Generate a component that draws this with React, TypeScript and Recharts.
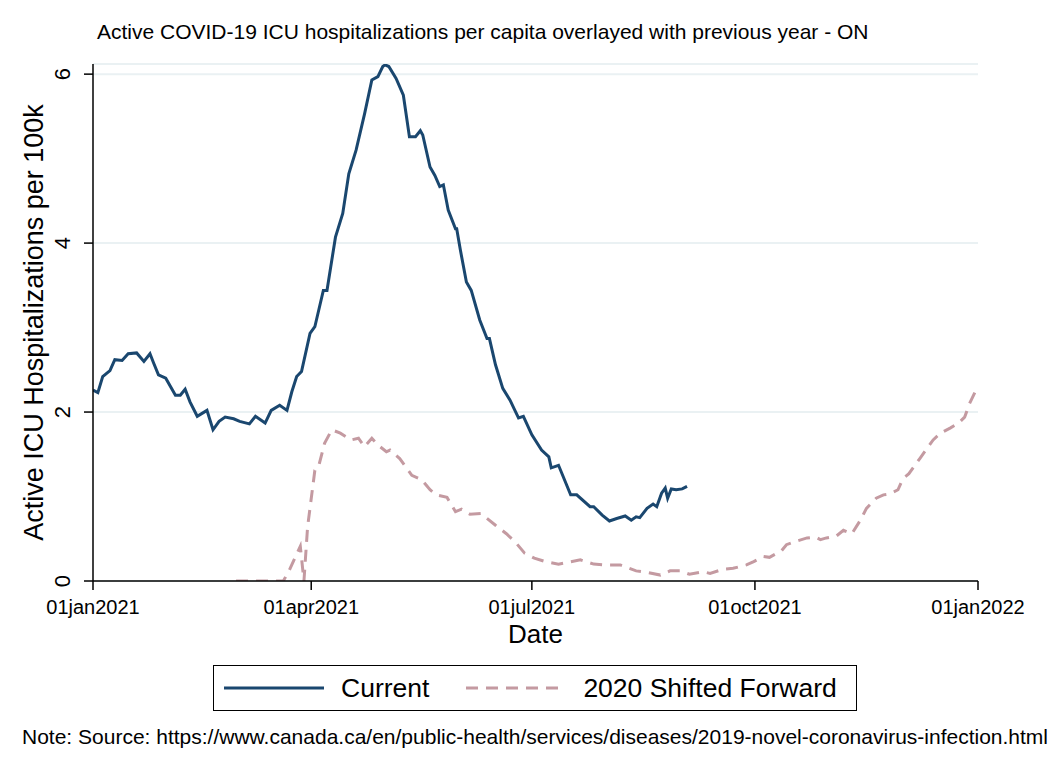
import React from 'react';
import { LineChart, Line, XAxis, YAxis, CartesianGrid, Legend, Label } from 'recharts';

const chartTitle = 'Active COVID-19 ICU hospitalizations per capita overlayed with previous year - ON';
const noteText = 'Note: Source: https://www.canada.ca/en/public-health/services/diseases/2019-novel-coronavirus-infection.html';
const xAxisTitle = 'Date';
const yAxisTitle = 'Active ICU Hospitalizations per 100k';

// x = days since 01jan2021
const xTickDays = [0, 90, 181, 273, 365];
const xTickLabels = ['01jan2021', '01apr2021', '01jul2021', '01oct2021', '01jan2022'];
const yTicks = [0, 2, 4, 6];
const legendOrder = ['Current', '2020 Shifted Forward'];

const currentDays = [
  0, 2, 4, 7, 9, 12, 14.5, 18, 21, 23.5, 25, 27, 30, 34, 36, 38, 40, 43, 47, 49.5,
  52, 54.5, 58, 60.5, 64.5, 67, 71, 73.5, 77, 80, 82, 84, 86, 89.5, 91.5, 95, 96.5, 100,
  103, 105.5, 108.5, 112, 115, 117.5, 119.5, 120.5, 122, 125, 128, 130.5, 133, 135, 136,
  139, 141, 143, 144.5, 146.5, 149.5, 150, 151.5, 154, 156, 159.5, 162.5, 163.5, 166, 169,
  172, 174, 175.5, 177.5, 181, 185, 188, 189, 192, 197, 199.5, 205, 206.5, 210, 213, 216,
  219.5, 222, 224, 225.5, 228.5, 231, 232.5, 234.5, 236, 237, 238.5, 240.5, 243, 245,
];
const currentValues = [
  2.26, 2.23, 2.42, 2.49, 2.62, 2.61, 2.69, 2.70, 2.60, 2.69, 2.58, 2.44, 2.40, 2.20, 2.20, 2.27, 2.12, 1.95, 2.02, 1.79,
  1.89, 1.94, 1.92, 1.89, 1.86, 1.95, 1.87, 2.02, 2.08, 2.02, 2.24, 2.42, 2.48, 2.93, 3.01, 3.44, 3.44, 4.07,
  4.35, 4.82, 5.10, 5.53, 5.93, 5.97, 6.09, 6.11, 6.09, 5.95, 5.75, 5.26, 5.26, 5.33, 5.28,
  4.90, 4.80, 4.67, 4.69, 4.39, 4.17, 4.17, 3.92, 3.54, 3.44, 3.09, 2.87, 2.87, 2.56, 2.28,
  2.14, 2.02, 1.93, 1.95, 1.73, 1.55, 1.47, 1.34, 1.37, 1.02, 1.02, 0.88, 0.88, 0.78, 0.71, 0.74,
  0.77, 0.72, 0.76, 0.75, 0.86, 0.91, 0.88, 1.04, 1.10, 0.98, 1.09, 1.08, 1.09, 1.12,
];

const shiftedDays = [
  59, 78.5, 81, 85.5, 87, 88.5, 91.5, 93, 95.5, 98.5, 102, 106.5, 109.5, 112, 115, 117.5,
  121, 122.5, 126.5, 131.5, 135.5, 139, 141.5, 146, 149.5, 152, 155.5, 160, 166, 170.5,
  174.5, 178, 182, 186.5, 192, 195.5, 201, 206.5, 212, 217.5, 224, 229, 234, 238, 242, 246,
  251.5, 254.5, 260, 264, 269.5, 272.5, 276.5, 279, 284, 286, 290, 294.5, 298, 300, 302.5,
  306.5, 309.5, 313, 316.5, 319, 323, 326, 328.5, 332, 334, 336.5, 339, 341, 344, 346.5,
  349.5, 353.5, 357, 359.5, 361.5, 364.5,
];
const shiftedValues = [
  0, 0, 0.13, 0.41, 0, 0.64, 1.31, 1.35, 1.63, 1.79, 1.75, 1.67, 1.69, 1.59, 1.69, 1.61,
  1.53, 1.55, 1.45, 1.25, 1.20, 1.08, 1.02, 0.99, 0.82, 0.85, 0.79, 0.80, 0.66, 0.56,
  0.45, 0.33, 0.27, 0.23, 0.20, 0.22, 0.25, 0.20, 0.19, 0.19, 0.12, 0.10, 0.07, 0.12, 0.12, 0.08,
  0.11, 0.09, 0.14, 0.15, 0.19, 0.23, 0.29, 0.28, 0.36, 0.43, 0.47, 0.51, 0.52, 0.49, 0.51,
  0.53, 0.60, 0.56, 0.72, 0.86, 0.98, 1.02, 1.03, 1.08, 1.21, 1.27, 1.37, 1.45, 1.57, 1.67,
  1.75, 1.81, 1.87, 1.94, 2.10, 2.28,
];

const currentData = currentDays.map((day, i) => ({ day, v: currentValues[i] }));
const shiftedData = shiftedDays.map((day, i) => ({ day, v: shiftedValues[i] }));

const NAVY = '#1a476f';
const MAROON = '#c49aa1';
const FONT = '"Liberation Sans", Arial, sans-serif';

const seriesStyle: Record<string, { color: string; dash?: string }> = {
  'Current': { color: NAVY },
  '2020 Shifted Forward': { color: MAROON, dash: '12 8' },
};

const YTick = (props: any) => {
  const { x, y, payload } = props;
  return (
    <text
      x={x}
      y={y}
      transform={`rotate(-90 ${x} ${y})`}
      textAnchor="middle"
      fontSize={22}
      fontFamily={FONT}
      fill="#000"
    >
      {payload.value}
    </text>
  );
};

const LegendContent = (props: any) => {
  const items = [...(props.payload || [])].sort(
    (a: any, b: any) => legendOrder.indexOf(a.value) - legendOrder.indexOf(b.value)
  );
  return (
    <div
      style={{
        width: 644,
        height: 46,
        border: '1.5px solid #000',
        boxSizing: 'border-box',
        display: 'flex',
        alignItems: 'center',
        background: '#fff',
        fontFamily: FONT,
        fontSize: 26.5,
        color: '#000',
      }}
    >
      {items.map((it: any, i: number) => {
        const st = seriesStyle[it.value] || { color: it.color };
        return (
          <div key={i} style={{ display: 'flex', alignItems: 'center', marginLeft: i === 0 ? 10 : 37 }}>
            <svg width={100} height={10} style={{ display: 'block' }}>
              <line x1={0} y1={5} x2={100} y2={5} stroke={st.color} strokeWidth={3} strokeDasharray={st.dash} />
            </svg>
            <span style={{ marginLeft: 17, lineHeight: '30px' }}>{it.value}</span>
          </div>
        );
      })}
    </div>
  );
};

export default function App() {
  return (
    <div style={{ position: 'absolute', left: 0, top: 0, width: 1056, height: 768, background: '#fff' }}>
      <div
        style={{
          position: 'absolute',
          left: 97,
          top: 20,
          fontFamily: FONT,
          fontSize: 21,
          color: '#000',
          whiteSpace: 'nowrap',
          lineHeight: '24px',
        }}
      >
        {chartTitle}
      </div>
      <LineChart
        width={1056}
        height={768}
        margin={{ top: 64, right: 78, bottom: 127, left: 13 }}
        style={{ position: 'absolute', left: 0, top: 0 }}
      >
        <CartesianGrid vertical={false} stroke="#eaf1f3" strokeWidth={2} />
        <XAxis
          type="number"
          dataKey="day"
          domain={[0, 365]}
          ticks={xTickDays}
          tickFormatter={(d: number) => xTickLabels[xTickDays.indexOf(d)] ?? ''}
          height={60}
          tickSize={9}
          tickMargin={10}
          stroke="#000"
          strokeWidth={1.5}
          tick={{ fontSize: 20, fontFamily: FONT, fill: '#000' }}
          allowDataOverflow
        >
          <Label
            value={xAxisTitle}
            position="insideBottom"
            offset={-2}
            style={{ fontSize: 26, fontFamily: FONT, fill: '#000' }}
          />
        </XAxis>
        <YAxis
          type="number"
          domain={[0, 6.12]}
          ticks={yTicks}
          width={80}
          tickSize={9}
          tickMargin={14}
          stroke="#000"
          strokeWidth={1.5}
          tick={<YTick />}
          allowDataOverflow
        >
          <Label
            value={yAxisTitle}
            angle={-90}
            position="insideLeft"
            offset={20}
            style={{ fontSize: 27, fontFamily: FONT, fill: '#000', textAnchor: 'middle' }}
          />
        </YAxis>
        <Legend
          layout="horizontal"
          verticalAlign="middle"
          align="center"
          content={<LegendContent />}
          wrapperStyle={{ position: 'absolute', left: 213, top: 665, width: 644, height: 46 }}
        />
        <Line
          data={currentData}
          dataKey="v"
          name="Current"
          type="linear"
          stroke={NAVY}
          strokeWidth={3}
          dot={false}
          activeDot={false}
          isAnimationActive={false}
        />
        <Line
          data={shiftedData}
          dataKey="v"
          name="2020 Shifted Forward"
          type="linear"
          stroke={MAROON}
          strokeWidth={3}
          strokeDasharray="12 8"
          dot={false}
          activeDot={false}
          isAnimationActive={false}
        />
      </LineChart>
      <div
        style={{
          position: 'absolute',
          left: 22,
          top: 725,
          fontFamily: FONT,
          fontSize: 21,
          color: '#000',
          whiteSpace: 'nowrap',
          lineHeight: '24px',
        }}
      >
        {noteText}
      </div>
    </div>
  );
}
